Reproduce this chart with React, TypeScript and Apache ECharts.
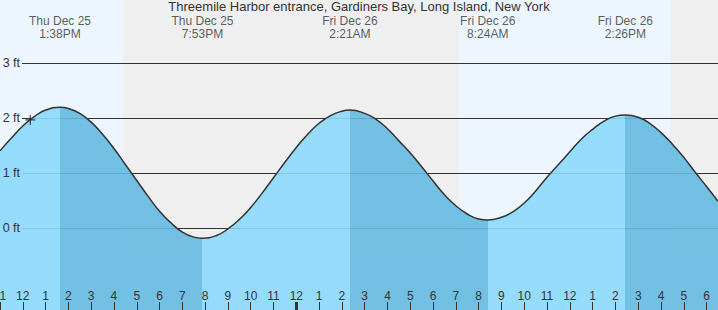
import React, { useEffect, useRef } from "react";
import * as echarts from "echarts";

const TITLE = "Threemile Harbor entrance, Gardiners Bay, Long Island, New York";

// hours counted from Thu Dec 25 00:00
const X_MIN = 11;
const X_MAX = 42.5;
const Y_MIN = -1.485;
const Y_MAX = 4.151;

const tideHours = [
  11, 11.5, 12, 12.5, 13, 13.633, 14, 14.5, 15, 15.5, 16, 16.5, 17, 17.5, 18, 18.5, 19, 19.5, 19.883,
  20.5, 21, 21.5, 22, 22.5, 23, 23.5, 24, 24.5, 25, 25.5, 26, 26.35,
  27, 27.5, 28, 28.5, 29, 29.5, 30, 30.5, 31, 31.5, 32, 32.4,
  33, 33.5, 34, 34.5, 35, 35.5, 36, 36.5, 37, 37.5, 38, 38.433,
  39, 39.5, 40, 40.5, 41, 41.5, 42, 42.5,
];
const tideFeet = [
  1.41, 1.64, 1.86, 2.03, 2.15, 2.2, 2.18, 2.09, 1.93, 1.71, 1.45, 1.16, 0.87, 0.58, 0.31, 0.1, -0.07, -0.16, -0.18,
  -0.13, -0.01, 0.16, 0.38, 0.64, 0.92, 1.2, 1.47, 1.71, 1.91, 2.05, 2.13, 2.15,
  2.09, 1.98, 1.81, 1.59, 1.37, 1.12, 0.86, 0.61, 0.41, 0.26, 0.17, 0.15,
  0.2, 0.3, 0.46, 0.68, 0.93, 1.16, 1.39, 1.62, 1.8, 1.95, 2.04, 2.06,
  2.02, 1.91, 1.74, 1.53, 1.29, 1.02, 0.76, 0.49,
];

const extremeHours = [13.633, 19.883, 26.35, 32.4, 38.433];
const extremeKinds = ["high", "low", "high", "low", "high"];
const extremeDays = ["Thu Dec 25", "Thu Dec 25", "Fri Dec 26", "Fri Dec 26", "Fri Dec 26"];
const extremeTimes = ["1:38PM", "7:53PM", "2:21AM", "8:24AM", "2:26PM"];

const daylightStart = [7.2, 31.15];
const daylightEnd = [16.4, 40.4];

const feetTicks = [0, 1, 2, 3];
const midnightTicks = [24];
const nowPoint = [12.33, 1.97];

const FONT = "'Liberation Sans', Arial, sans-serif";
const TEXT = "#333333";
const LIGHT = "rgba(140,217,252,0.9)";
const DARK = "rgba(100,186,225,0.9)";
const DAY_BG = "#edf6fe";
const NIGHT_BG = "#efefef";

export default function App() {
  const ref = useRef<HTMLDivElement>(null);

  useEffect(() => {
    if (!ref.current) return;
    const chart = echarts.init(ref.current, undefined, { renderer: "svg" });

    const tide = tideHours.map((h, i) => [h, tideFeet[i]]);

    const pieces: any[] = [];
    let prev = X_MIN;
    extremeHours.forEach((h, i) => {
      pieces.push({ gte: prev, lt: h, color: extremeKinds[i] === "high" ? LIGHT : DARK });
      prev = h;
    });
    pieces.push({
      gte: prev,
      lte: X_MAX,
      color: extremeKinds[extremeKinds.length - 1] === "high" ? DARK : LIGHT,
    });

    const option: any = {
      animation: false,
      backgroundColor: NIGHT_BG,
      textStyle: { fontFamily: FONT },
      title: {
        text: TITLE,
        left: "center",
        top: 0,
        padding: 0,
        textStyle: { fontSize: 13, lineHeight: 13, fontWeight: "normal", color: TEXT, fontFamily: FONT },
      },
      grid: [
        { left: 0, right: 0, top: 0, bottom: 0, outerBoundsMode: "none", containLabel: false },
        { left: 22, right: 0, top: 0, bottom: 0, outerBoundsMode: "none", containLabel: false },
      ],
      visualMap: {
        type: "piecewise",
        show: false,
        dimension: 0,
        seriesIndex: 2,
        pieces,
      },
      xAxis: [
        {
          type: "value",
          gridIndex: 0,
          min: X_MIN,
          max: X_MAX,
          interval: 1,
          position: "bottom",
          z: 10,
          axisLine: { show: false, onZero: false },
          splitLine: { show: false },
          axisTick: { show: true, inside: true, length: 8, lineStyle: { color: TEXT, width: 1 } },
          axisLabel: {
            show: true,
            inside: true,
            margin: 8,
            showMaxLabel: false,
            color: TEXT,
            fontSize: 12,
            fontFamily: FONT,
            formatter: (v: number) => {
              if (!Number.isInteger(v)) return "";
              const h = v % 12;
              return String(h === 0 ? 12 : h);
            },
          },
        },
        {
          type: "value",
          gridIndex: 0,
          min: X_MIN,
          max: X_MAX,
          position: "bottom",
          z: 11,
          axisLine: { show: false, onZero: false },
          splitLine: { show: false },
          axisLabel: { show: false },
          axisTick: {
            show: true,
            inside: true,
            length: 8,
            customValues: midnightTicks,
            lineStyle: { color: TEXT, width: 3 },
          },
        },
        { type: "value", gridIndex: 1, min: 0, max: 1, show: false, axisLine: { onZero: false } },
      ],
      yAxis: [
        { type: "value", gridIndex: 0, min: Y_MIN, max: Y_MAX, show: false, axisLine: { onZero: false } },
        {
          type: "value",
          gridIndex: 1,
          min: Y_MIN,
          max: Y_MAX,
          z: 10,
          axisLine: { show: false, onZero: false },
          axisTick: { show: false },
          splitLine: { show: false },
          axisLabel: {
            show: true,
            margin: 2,
            color: TEXT,
            fontSize: 12.5,
            fontFamily: FONT,
            showMinLabel: false,
            showMaxLabel: false,
            formatter: (v: number) => (feetTicks.indexOf(v) >= 0 ? v + " ft" : ""),
          },
        },
      ],
      series: [
        {
          type: "line",
          xAxisIndex: 0,
          yAxisIndex: 0,
          data: [],
          z: 0,
          silent: true,
          markArea: {
            silent: true,
            z: 0,
            itemStyle: { color: DAY_BG },
            data: daylightStart.map((s, i) => [{ xAxis: s }, { xAxis: daylightEnd[i] }]),
          },
        },
        {
          type: "line",
          xAxisIndex: 2,
          yAxisIndex: 1,
          data: [],
          z: 1,
          silent: true,
          markLine: {
            silent: true,
            z: 1,
            symbol: "none",
            label: { show: false },
            lineStyle: { color: TEXT, width: 1, type: "solid" },
            data: feetTicks.map((v) => ({ yAxis: v })),
          },
        },
        {
          type: "line",
          xAxisIndex: 0,
          yAxisIndex: 0,
          data: tide,
          smooth: true,
          symbol: "none",
          z: 2,
          silent: true,
          lineStyle: { width: 0 },
          areaStyle: { origin: "start", opacity: 1 },
        },
        {
          type: "line",
          xAxisIndex: 0,
          yAxisIndex: 0,
          data: tide,
          smooth: true,
          symbol: "none",
          z: 3,
          silent: true,
          lineStyle: { color: "#333333", width: 1.5 },
        },
        {
          type: "scatter",
          xAxisIndex: 0,
          yAxisIndex: 0,
          clip: false,
          z: 5,
          symbolSize: 1,
          itemStyle: { color: "rgba(0,0,0,0)" },
          data: extremeHours.map((h) => [h, Y_MAX]),
          label: {
            show: true,
            position: "bottom",
            distance: 13.5,
            color: TEXT,
            fontSize: 12,
            lineHeight: 13,
            fontFamily: FONT,
            align: "center",
            formatter: (p: any) => extremeDays[p.dataIndex] + "\n" + extremeTimes[p.dataIndex],
          },
        },
        {
          type: "scatter",
          xAxisIndex: 0,
          yAxisIndex: 0,
          z: 6,
          symbol: "path://M4.4,0H5.6V4.4H10V5.6H5.6V10H4.4V5.6H0V4.4H4.4Z",
          symbolSize: 10,
          itemStyle: { color: "#222222" },
          data: [nowPoint],
        },
      ],
    };

    chart.setOption(option);
    return () => chart.dispose();
  }, []);

  return (
    <div
      ref={ref}
      style={{ position: "absolute", left: 0, top: 0, width: 718, height: 310 }}
    />
  );
}
